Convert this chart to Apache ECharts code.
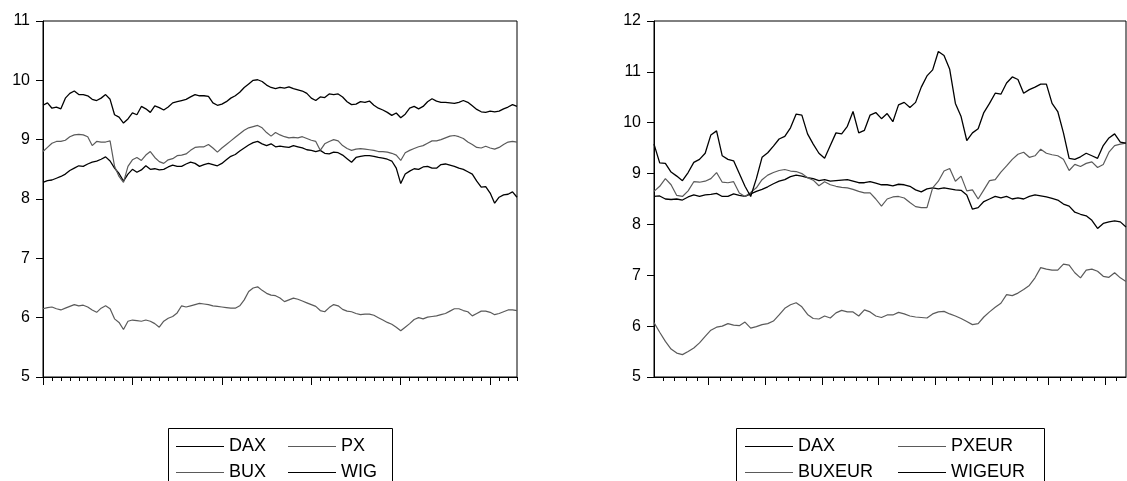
<!DOCTYPE html>
<html><head><meta charset="utf-8">
<script src="https://cdn.jsdelivr.net/npm/echarts@6/dist/echarts.min.js"></script>
<style>html,body{margin:0;padding:0;background:#fff}#c{width:1127px;height:481px}</style>
</head><body><div id="c"></div><script>
// ---------- data (log index levels) ----------
const leftNames = ['DAX', 'PX', 'BUX', 'WIG'];
const rightNames = ['DAX', 'PXEUR', 'BUXEUR', 'WIGEUR'];
const leftYTicks = [5, 6, 7, 8, 9, 10, 11];
const rightYTicks = [5, 6, 7, 8, 9, 10, 11, 12];

const leftDAX = [8.28,8.31,8.32,8.35,8.38,8.42,8.48,8.52,8.56,8.55,
 8.59,8.62,8.64,8.67,8.71,8.64,8.52,8.43,8.30,8.42,
 8.50,8.45,8.49,8.56,8.50,8.51,8.49,8.50,8.54,8.57,
 8.55,8.55,8.59,8.62,8.60,8.55,8.58,8.60,8.58,8.56,
 8.60,8.66,8.72,8.75,8.81,8.86,8.91,8.95,8.97,8.93,
 8.90,8.93,8.88,8.89,8.88,8.87,8.90,8.88,8.86,8.83,
 8.82,8.80,8.82,8.77,8.76,8.79,8.78,8.74,8.68,8.62,
 8.70,8.72,8.73,8.73,8.72,8.70,8.69,8.67,8.64,8.52,
 8.26,8.42,8.47,8.51,8.50,8.54,8.55,8.52,8.52,8.58,
 8.59,8.57,8.55,8.52,8.50,8.46,8.42,8.30,8.20,8.21,
 8.10,7.93,8.03,8.07,8.08,8.12,8.03];
const leftPX = [6.15,6.17,6.18,6.15,6.13,6.16,6.19,6.22,6.20,6.21,
 6.18,6.13,6.09,6.16,6.20,6.15,5.98,5.92,5.80,5.94,
 5.96,5.95,5.94,5.96,5.94,5.90,5.84,5.94,5.99,6.02,
 6.08,6.20,6.18,6.20,6.22,6.24,6.23,6.22,6.20,6.19,
 6.18,6.17,6.16,6.16,6.20,6.30,6.44,6.50,6.52,6.46,
 6.41,6.38,6.37,6.33,6.27,6.30,6.33,6.31,6.28,6.25,
 6.22,6.19,6.12,6.10,6.17,6.22,6.20,6.14,6.11,6.10,
 6.07,6.05,6.06,6.06,6.04,6.00,5.96,5.92,5.89,5.84,
 5.78,5.84,5.90,5.97,6.00,5.98,6.01,6.02,6.03,6.05,
 6.07,6.11,6.15,6.15,6.12,6.10,6.03,6.07,6.11,6.11,
 6.09,6.05,6.07,6.10,6.13,6.13,6.12];
const leftBUX = [8.80,8.87,8.94,8.97,8.97,8.99,9.05,9.08,9.09,9.08,
 9.05,8.90,8.97,8.96,8.96,8.98,8.55,8.38,8.28,8.55,
 8.66,8.70,8.65,8.74,8.80,8.70,8.63,8.60,8.66,8.68,
 8.73,8.74,8.76,8.82,8.87,8.88,8.88,8.92,8.86,8.79,
 8.86,8.92,8.98,9.04,9.10,9.16,9.20,9.22,9.24,9.20,
 9.12,9.06,9.12,9.08,9.05,9.03,9.04,9.03,9.05,9.02,
 8.99,8.97,8.82,8.93,8.97,9.00,8.98,8.90,8.85,8.82,
 8.84,8.85,8.84,8.83,8.82,8.80,8.80,8.79,8.77,8.74,
 8.65,8.78,8.82,8.85,8.88,8.90,8.94,8.98,8.98,9.00,
 9.03,9.06,9.07,9.05,9.02,8.96,8.92,8.87,8.86,8.89,
 8.86,8.84,8.87,8.92,8.96,8.97,8.96];
const leftWIG = [9.58,9.62,9.53,9.55,9.52,9.70,9.78,9.82,9.76,9.76,
 9.74,9.68,9.66,9.70,9.76,9.68,9.42,9.38,9.28,9.35,
 9.45,9.42,9.56,9.52,9.46,9.57,9.54,9.50,9.55,9.62,
 9.64,9.66,9.68,9.72,9.76,9.74,9.74,9.73,9.62,9.58,
 9.60,9.64,9.70,9.74,9.80,9.88,9.94,10.00,10.01,9.98,
 9.92,9.88,9.86,9.88,9.87,9.89,9.86,9.84,9.82,9.78,
 9.70,9.66,9.72,9.71,9.77,9.76,9.77,9.72,9.64,9.59,
 9.60,9.64,9.63,9.65,9.58,9.53,9.50,9.46,9.41,9.45,
 9.37,9.43,9.53,9.56,9.52,9.56,9.64,9.69,9.65,9.63,
 9.63,9.62,9.61,9.63,9.66,9.63,9.57,9.51,9.47,9.46,
 9.48,9.47,9.48,9.52,9.55,9.59,9.56];

const rightDAX = [8.55,8.56,8.50,8.49,8.50,8.48,8.54,8.58,8.55,8.58,
 8.59,8.61,8.55,8.55,8.60,8.57,8.55,8.60,8.65,8.69,
 8.74,8.80,8.85,8.88,8.94,8.97,8.95,8.92,8.90,8.86,
 8.88,8.85,8.86,8.87,8.88,8.85,8.82,8.82,8.84,8.81,
 8.78,8.78,8.76,8.79,8.78,8.75,8.68,8.64,8.70,8.72,
 8.70,8.72,8.70,8.68,8.67,8.58,8.30,8.33,8.45,8.50,
 8.55,8.52,8.55,8.50,8.52,8.50,8.55,8.58,8.56,8.54,
 8.51,8.48,8.40,8.36,8.24,8.20,8.17,8.08,7.92,8.02,
 8.05,8.07,8.05,7.95];
const rightPXEUR = [6.07,5.88,5.70,5.55,5.47,5.44,5.50,5.57,5.67,5.80,
 5.92,5.98,6.00,6.05,6.02,6.01,6.08,5.96,5.99,6.03,
 6.05,6.10,6.22,6.35,6.42,6.46,6.38,6.23,6.15,6.14,
 6.20,6.16,6.26,6.31,6.28,6.28,6.20,6.32,6.28,6.20,
 6.17,6.22,6.22,6.27,6.24,6.20,6.18,6.17,6.16,6.24,
 6.28,6.29,6.24,6.20,6.15,6.09,6.03,6.05,6.18,6.28,
 6.37,6.45,6.62,6.60,6.65,6.72,6.80,6.95,7.15,7.12,
 7.10,7.10,7.22,7.20,7.05,6.95,7.10,7.12,7.08,6.98,
 6.96,7.05,6.95,6.88];
const rightBUXEUR = [8.65,8.75,8.90,8.78,8.57,8.55,8.66,8.84,8.83,8.85,
 8.90,9.02,8.83,8.82,8.84,8.62,8.55,8.63,8.72,8.88,
 8.97,9.02,9.06,9.08,9.05,9.04,9.00,8.92,8.87,8.76,
 8.84,8.78,8.75,8.73,8.72,8.69,8.65,8.62,8.62,8.50,
 8.36,8.50,8.54,8.55,8.52,8.43,8.35,8.33,8.33,8.72,
 8.85,9.05,9.10,8.85,8.95,8.66,8.68,8.50,8.68,8.86,
 8.88,9.03,9.15,9.28,9.38,9.42,9.32,9.35,9.48,9.40,
 9.37,9.35,9.28,9.06,9.18,9.14,9.20,9.23,9.12,9.18,
 9.42,9.55,9.58,9.60];
const rightWIGEUR = [9.58,9.21,9.20,9.03,8.95,8.86,9.02,9.22,9.28,9.40,
 9.76,9.84,9.35,9.28,9.25,9.00,8.75,8.55,8.90,9.32,
 9.41,9.54,9.68,9.73,9.90,10.17,10.15,9.78,9.58,9.40,
 9.30,9.55,9.80,9.78,9.93,10.22,9.80,9.85,10.15,10.20,
 10.08,10.18,10.02,10.35,10.40,10.30,10.40,10.70,10.92,11.04,
 11.40,11.32,11.05,10.38,10.12,9.65,9.80,9.88,10.20,10.38,
 10.58,10.56,10.78,10.90,10.85,10.58,10.65,10.70,10.76,10.76,
 10.38,10.22,9.80,9.30,9.28,9.33,9.40,9.35,9.30,9.55,
 9.70,9.78,9.62,9.60];

// ---------- layout / style ----------
const BLACK = '#000000', GRAY = '#5a5a5a';
const FONT = 'Liberation Sans';
const L_MAX = 53, R_MAX = 41.62;      // x extent in minor-tick units
const range = (n, f) => Array.from({length: n}, (_, k) => f(k));
const leftMinor = range(54, k => k), leftMajor = range(6, k => k * 10);
const rightMinor = range(41, k => 0.8 + k), rightMajor = range(8, k => 4.8 + 5 * k);

function toPairs(arr, xmax) {
  const step = xmax / (arr.length - 1);
  return arr.map((v, i) => [i * step, v]);
}
function xAx(grid, max, ticks, len, line) {
  return {gridIndex: grid, type: 'value', min: 0, max: max, position: 'bottom',
    axisLine: {show: line, onZero: false, lineStyle: {color: '#000', width: 1}},
    axisTick: {show: true, length: len, customValues: ticks, lineStyle: {color: '#000', width: 1}},
    axisLabel: {show: false}, splitLine: {show: false}};
}
function yAx(grid, ticks) {
  return {gridIndex: grid, type: 'value', min: ticks[0], max: ticks[ticks.length - 1], interval: 1,
    axisLine: {show: true, lineStyle: {color: '#000', width: 1}},
    axisTick: {show: true, length: 7, lineStyle: {color: '#000', width: 1}},
    axisLabel: {color: '#000', fontSize: 16, fontFamily: FONT, margin: 13,
      formatter: v => String(v)},
    splitLine: {show: false}};
}
function ser(name, arr, xmax, grid, color, w) {
  return {name: name, type: 'line', xAxisIndex: grid * 2, yAxisIndex: grid,
    data: toPairs(arr, xmax), symbol: 'none', showSymbol: false, color: color,
    lineStyle: {color: color, width: w}, itemStyle: {color: color}, animation: false, z: 3};
}
function leg(name, left, top, color) {
  return {show: true, left: left, top: top, padding: 0, itemGap: 0, itemWidth: 48, itemHeight: 1,
    selectedMode: false, icon: 'rect',
    data: [{name: name, icon: 'rect', itemStyle: {color: color, borderWidth: 0}}],
    textStyle: {fontSize: 18, fontFamily: FONT, color: '#000', lineHeight: 21}};
}

const chart = echarts.init(document.getElementById('c'), null, {renderer: 'canvas'});
chart.setOption({
  backgroundColor: '#ffffff',
  animation: false,
  grid: [
    {left: 43, top: 21, width: 474, height: 356, show: true, borderColor: '#000', borderWidth: 1, containLabel: false},
    {left: 654, top: 21, width: 472, height: 356, show: true, borderColor: '#000', borderWidth: 1, containLabel: false}
  ],
  xAxis: [
    xAx(0, L_MAX, leftMinor, 4, true), xAx(0, L_MAX, leftMajor, 8, false),
    xAx(1, R_MAX, rightMinor, 4, true), xAx(1, R_MAX, rightMajor, 8, false)
  ],
  yAxis: [yAx(0, leftYTicks), yAx(1, rightYTicks)],
  series: [
    ser(leftNames[0], leftDAX, L_MAX, 0, BLACK, 1.3),
    ser(leftNames[1], leftPX, L_MAX, 0, GRAY, 1.2),
    ser(leftNames[2], leftBUX, L_MAX, 0, GRAY, 1.2),
    ser(leftNames[3], leftWIG, L_MAX, 0, BLACK, 1.3),
    {...ser(rightNames[0], rightDAX, R_MAX, 1, BLACK, 1.3), xAxisIndex: 2},
    {...ser(rightNames[1], rightPXEUR, R_MAX, 1, GRAY, 1.2), xAxisIndex: 2},
    {...ser(rightNames[2], rightBUXEUR, R_MAX, 1, GRAY, 1.2), xAxisIndex: 2},
    {...ser(rightNames[3], rightWIGEUR, R_MAX, 1, BLACK, 1.3), xAxisIndex: 2}
  ],
  legend: [
    leg(leftNames[0], 176, 436, BLACK), leg(leftNames[1], 288, 436, GRAY),
    leg(leftNames[2], 176, 462, GRAY), leg(leftNames[3], 288, 462, BLACK),
    leg(rightNames[0], 745, 436, BLACK), leg(rightNames[1], 898, 436, GRAY),
    leg(rightNames[2], 745, 462, GRAY), leg(rightNames[3], 898, 462, BLACK)
  ],
  graphic: [
    {type: 'rect', silent: true, shape: {x: 168.5, y: 428.5, width: 224, height: 80},
      style: {fill: 'none', stroke: '#000', lineWidth: 1}},
    {type: 'rect', silent: true, shape: {x: 736.5, y: 428.5, width: 308, height: 80},
      style: {fill: 'none', stroke: '#000', lineWidth: 1}}
  ]
});
</script></body></html>
